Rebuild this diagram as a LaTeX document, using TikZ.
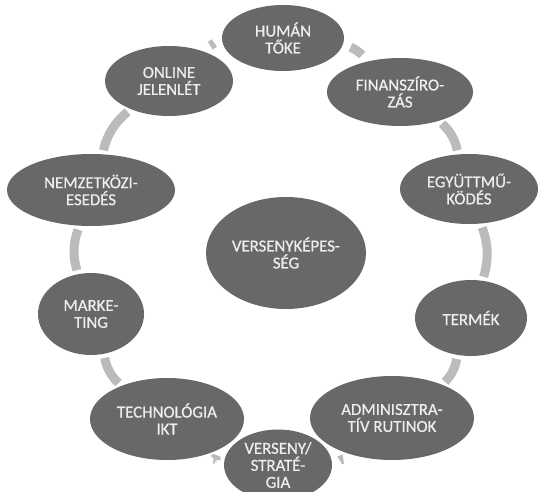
\documentclass[tikz,border=0pt]{standalone}
\usepackage{fontspec}
\setmainfont{Carlito}
\newfontfamily\heavyfont{Carlito}[FakeBold=0.6]
\usetikzlibrary{shapes.geometric}
\definecolor{nodegray}{HTML}{686868}
\definecolor{bargray}{HTML}{BBBBBB}
\definecolor{txtwhite}{HTML}{EEEEEE}
\begin{document}
\begin{tikzpicture}[x=1pt,y=1pt,
  bub/.style={ellipse, fill=nodegray, text=txtwhite, align=center, inner sep=0pt,
    font=\heavyfont\fontsize{16.8}{17}\selectfont},
  bar/.style={draw=bargray, line width=9pt, shorten <=4pt, shorten >=4pt, bend left=18},
  shortbar/.style={bar, shorten <=8pt, shorten >=8pt}]
\useasboundingbox (0,0) rectangle (547,491);
% y = 491 - screen y
\node[bub, minimum width=122pt, minimum height=66pt] (hum) at (283,453) {HUMÁN\\TŐKE};
\node[bub, minimum width=128pt, minimum height=70pt] (onl) at (169,410) {ONLINE\\JELENLÉT};
\node[bub, minimum width=146pt, minimum height=68pt] (fin) at (400,399) {FINANSZÍRO-\\ZÁS};
\node[bub, minimum width=168pt, minimum height=72pt] (nem) at (91,301) {NEMZETKÖZI-\\ESEDÉS};
\node[bub, minimum width=138pt, minimum height=70pt] (egy) at (469,302) {EGYÜTTMŰ-\\KÖDÉS};
\node[bub, minimum width=160pt, minimum height=112pt] (ver) at (286,238) {VERSENYKÉPES-\\SÉG};
\node[bub, minimum width=106pt, minimum height=82pt] (mar) at (91,177) {MARKE-\\TING};
\node[bub, minimum width=112pt, minimum height=76pt] (ter) at (471,173) {TERMÉK};
\node[bub, minimum width=154pt, minimum height=82pt] (tec) at (167,72) {TECHNOLÓGIA\\IKT};
\node[bub, minimum width=164pt, minimum height=84pt] (adm) at (392,73) {ADMINISZTRA-\\TÍV RUTINOK};
\node[bub, minimum width=108pt, minimum height=71pt] (str) at (278,26) {VERSENY/\\STRATÉ-\\GIA};
\draw[shortbar] (hum) to (fin);
\draw[bar] (fin) to (egy);
\draw[bar] (egy) to (ter);
\draw[bar] (ter) to (adm);
\draw[shortbar] (adm) to (str);
\draw[shortbar] (str) to (tec);
\draw[bar] (tec) to (mar);
\draw[bar] (mar) to (nem);
\draw[bar] (nem) to (onl);
\draw[shortbar] (onl) to (hum);
\end{tikzpicture}
\end{document}
